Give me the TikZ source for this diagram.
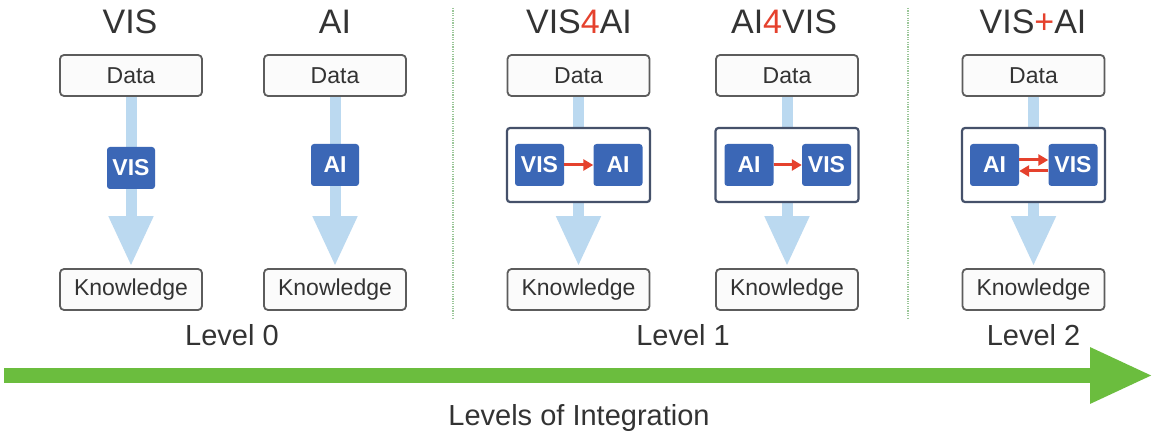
\documentclass[tikz,border=0pt]{standalone}
\usepackage{fontspec}
\setmainfont{Liberation Sans}
\usetikzlibrary{arrows.meta}

\definecolor{txt}{HTML}{333333}
\definecolor{boxline}{HTML}{5C5C5C}
\definecolor{boxfill}{HTML}{FBFBFB}
\definecolor{panel}{HTML}{45516A}
\definecolor{visblue}{HTML}{3B67B6}
\definecolor{flow}{HTML}{BBD9F0}
\definecolor{accent}{HTML}{E5412D}
\definecolor{levelgreen}{HTML}{6BBD3E}
\definecolor{sepgreen}{HTML}{9CC79A}

\pgfdeclarelayer{canvas}
\pgfdeclarelayer{background}
\pgfsetlayers{canvas,background,main}

\begin{document}
\begin{tikzpicture}[x=1pt,y=-1pt,
  title/.style={font=\fontsize{34}{40}\selectfont, text=txt, anchor=base, inner sep=0pt},
  lvl/.style={font=\fontsize{29}{34}\selectfont, text=txt, anchor=base, inner sep=0pt},
  plain/.style={draw=boxline, line width=1.8pt, rounded corners=4pt, fill=boxfill,
    minimum width=142pt, minimum height=41pt, inner sep=0pt,
    font=\fontsize{23}{27}\selectfont, text=txt},
  panelbox/.style={draw=panel, line width=2.2pt, rounded corners=3pt, fill=white,
    minimum width=143pt, minimum height=74pt, inner sep=0pt},
  module/.style={fill=visblue, rounded corners=3pt, minimum width=49pt, minimum height=42pt,
    inner sep=0pt, text=white, font=\bfseries\fontsize{23}{26}\selectfont},
  flowarrow/.style={draw=flow, line width=11pt, -{Triangle[width=42pt,length=50pt]}, shorten >=2pt},
  linkarrow/.style={draw=accent, line width=3pt, -{Triangle[width=11pt,length=10pt]}},
  sepline/.style={draw=sepgreen, line width=1.3pt, dash pattern=on 1.2pt off 1.2pt},
]
\begin{pgfonlayer}{canvas}
  \fill[white] (0,0) rectangle (1155,435);
\end{pgfonlayer}
\useasboundingbox (0,0) rectangle (1155,435);

% ---- titles ----
\node[title] (t1) at (130,34) {VIS};
\node[title] (t2) at (335,34) {AI};
\node[title] (t3) at (579,34) {VIS\textcolor{accent}{4}AI};
\node[title] (t4) at (784,34) {AI\textcolor{accent}{4}VIS};
\node[title] (t5) at (1033,34) {VIS\textcolor{accent}{+}AI};

% ---- data and knowledge boxes ----
\node[plain] (d1) at (131,75.5) {Data};
\node[plain] (d2) at (335,75.5) {Data};
\node[plain] (d3) at (578.5,75.5) {Data};
\node[plain] (d4) at (787,75.5) {Data};
\node[plain] (d5) at (1033.5,75.5) {Data};

\node[plain] (k1) at (131,289.5) {Knowledge};
\node[plain] (k2) at (335,289.5) {Knowledge};
\node[plain] (k3) at (578.5,289.5) {Knowledge};
\node[plain] (k4) at (787,289.5) {Knowledge};
\node[plain] (k5) at (1033.5,289.5) {Knowledge};

% ---- level 0 modules ----
\node[module, minimum width=48pt] (v1) at (131,168) {VIS};
\node[module, minimum width=48pt] (a2) at (335,165) {AI};

% ---- level 1 and 2 panels ----
\node[panelbox] (p3) at (578.5,165) {};
\node[panelbox] (p4) at (787,165) {};
\node[panelbox] (p5) at (1033.5,165) {};

\node[module] (v3) at (539.5,165) {VIS};
\node[module] (a3) at (618,165) {AI};
\node[module] (a4) at (749,165) {AI};
\node[module] (v4) at (826.5,165) {VIS};
\node[module] (a5) at (994.5,165) {AI};
\node[module] (v5) at (1073,165) {VIS};

\draw[linkarrow] (v3.east) -- (a3.west);
\draw[linkarrow] (a4.east) -- (v4.west);
\draw[linkarrow] ([yshift=5pt]a5.east) -- ([yshift=5pt]v5.west);
\draw[linkarrow] ([yshift=-6pt]v5.west) -- ([yshift=-6pt]a5.east);

% ---- flow from data to knowledge ----
\begin{pgfonlayer}{background}
  \foreach \i in {1,...,5} {
    \draw[flowarrow] (d\i.south) -- (k\i.north);
  }
\end{pgfonlayer}

% ---- level separators ----
\coordinate (s1a) at (453,8);
\coordinate (s1b) at (453,318);
\coordinate (s2a) at (908,8);
\coordinate (s2b) at (908,318);
\draw[sepline] (s1a) -- (s1b);
\draw[sepline] (s2a) -- (s2b);

% ---- level labels ----
\node[lvl] (l0) at (232,345) {Level 0};
\node[lvl] (l1) at (683,345) {Level 1};
\node[lvl] (l2) at (1033.5,345) {Level 2};

% ---- integration axis ----
\coordinate (gstart) at (4,375.5);
\coordinate (gend) at (1153,375.5);
\draw[draw=levelgreen, line width=15pt, -{Triangle[width=52pt,length=63pt]}] (gstart) -- (gend);
\node[lvl] (cap) at (579,425) {Levels of Integration};
\end{tikzpicture}
\end{document}
